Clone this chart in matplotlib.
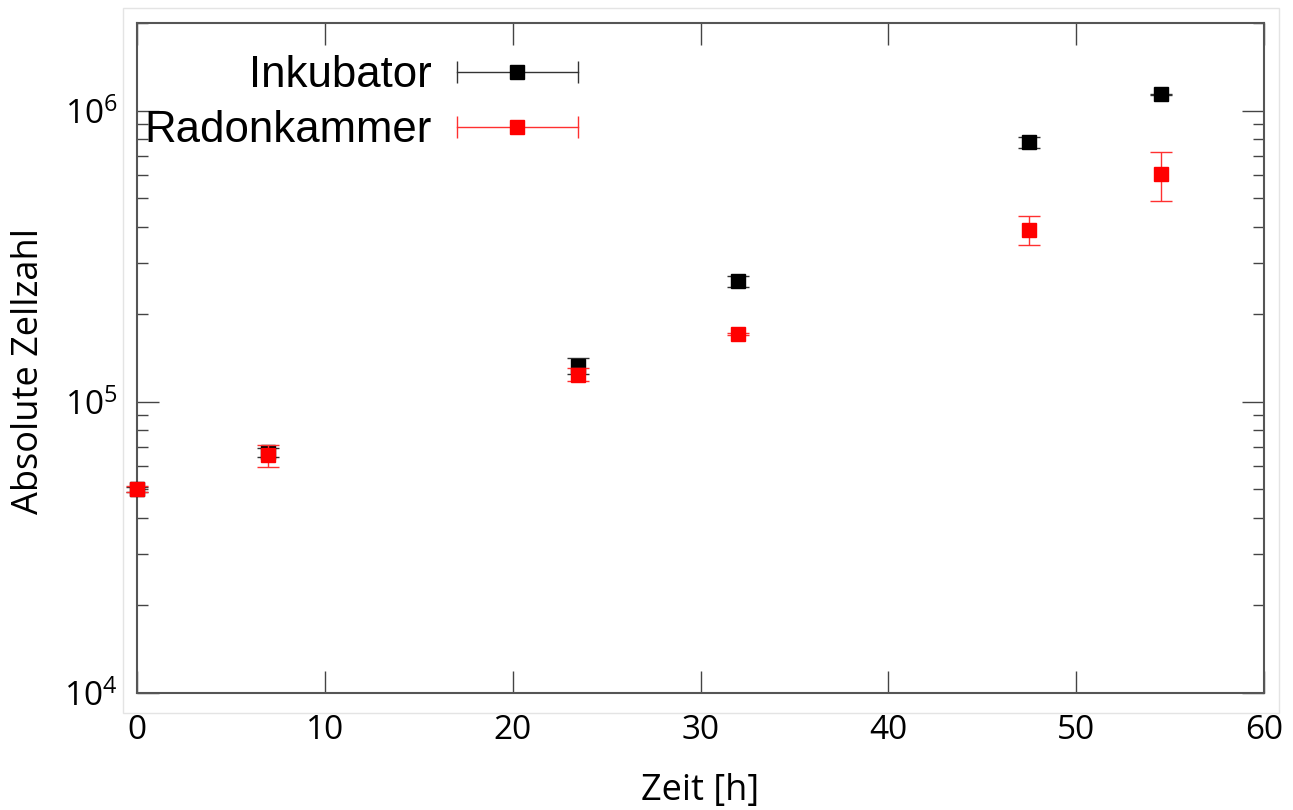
import numpy as np
import matplotlib
matplotlib.use("Agg")
import matplotlib.pyplot as plt
from matplotlib.legend_handler import HandlerBase
from matplotlib.lines import Line2D
from matplotlib.patches import Rectangle
from matplotlib.ticker import LogLocator, FixedLocator, NullFormatter

# ---- data ----
time_h = [0, 7, 23.5, 32, 47.5, 54.5]
inkubator = [5.0e4, 6.72e4, 1.33e5, 2.59e5, 7.8e5, 1.138e6]
inkubator_err = [1.0e3, 2.4e3, 8.5e3, 1.2e4, 3.5e4, 5.0e3]
radon = [5.02e4, 6.55e4, 1.24e5, 1.71e5, 3.9e5, 6.05e5]
radon_err = [1.0e3, 5.7e3, 6.5e3, 2.0e3, 4.5e4, 1.15e5]
labels = ["Inkubator", "Radonkammer"]
x_ticks = [0, 10, 20, 30, 40, 50, 60]

series_colors = ['black', '#ff0000']
err_colors = ['#333333', '#ff3030']

plt.rcParams['font.family'] = ['Open Sans', 'DejaVu Sans']

fig = plt.figure(figsize=(12.93, 8.10), dpi=100)
ax = fig.add_axes([137/1293, 1 - 693/810, (1264 - 137)/1293, (693 - 23)/810])

# faint outer frame
fig.patches.append(Rectangle((123/1293, 1 - 713/810), (1279 - 123)/1293, (713 - 8)/810,
                             transform=fig.transFigure, fill=False, edgecolor='#e4e4e4', lw=1.0))

ms = 10
cap = 8
handles = []
for vals, errs, c, ec, z in [(inkubator, inkubator_err, series_colors[0], err_colors[0], 3),
                             (radon, radon_err, series_colors[1], err_colors[1], 4)]:
    h = ax.errorbar(time_h, vals, yerr=errs, fmt='s', color=c, ms=ms,
                    ecolor=ec, elinewidth=1.0, capsize=cap, capthick=1.0,
                    clip_on=False, zorder=z)
    handles.append(h)


class HandlerXErr(HandlerBase):
    """gnuplot-like key sample: horizontal error bar with end caps and marker."""
    def __init__(self, color, ecolor, ms, capsize, **kw):
        super().__init__(**kw)
        self.color, self.ecolor, self.ms, self.capsize = color, ecolor, ms, capsize

    def create_artists(self, legend, orig_handle, xdescent, ydescent, width, height,
                       fontsize, trans):
        x0 = -xdescent
        x1 = -xdescent + width
        y = height / 2 - ydescent
        xc = (x0 + x1) / 2
        bar = Line2D([x0, x1], [y, y], color=self.ecolor, lw=1.0, transform=trans)
        caps = Line2D([x0, x1], [y, y], ls='none', marker='|', ms=2 * self.capsize,
                      mew=1.0, color=self.ecolor, transform=trans)
        mk = Line2D([xc], [y], ls='none', marker='s', ms=self.ms,
                    color=self.color, transform=trans)
        return [bar, caps, mk]


ax.set_yscale('log')
ax.set_xlim(0, 60)
ax.set_ylim(1e4, 2e6)
ax.xaxis.set_major_locator(FixedLocator(x_ticks))
ax.yaxis.set_major_locator(LogLocator(base=10, numticks=10))
ax.yaxis.set_minor_locator(LogLocator(base=10, subs=np.arange(2, 10), numticks=20))
ax.yaxis.set_minor_formatter(NullFormatter())

for s in ax.spines.values():
    s.set_color('#555555')
    s.set_linewidth(1.5)

ax.tick_params(axis='both', which='major', direction='in', length=16, width=1.0,
               color='#444444', labelsize=24, top=True, right=True)
ax.tick_params(axis='x', which='major', pad=15)
ax.tick_params(axis='y', which='major', pad=14)
ax.tick_params(axis='y', which='minor', direction='in', length=8, width=1.0,
               color='#444444', left=True, right=True)

ax.set_xlabel('Zeit [h]', fontsize=26, labelpad=19)
ax.set_ylabel('Absolute Zellzahl', fontsize=26)
ax.yaxis.set_label_coords(-0.080, 0.48)

leg = ax.legend(handles, labels, loc='upper right',
                bbox_to_anchor=(578/1293, 1 - 55/810), bbox_transform=fig.transFigure,
                frameon=False, markerfirst=False, borderpad=0, borderaxespad=0,
                handlelength=2.77, handletextpad=0.57, labelspacing=0.33,
                prop={'family': 'Liberation Sans', 'size': 31.5},
                handler_map={handles[0]: HandlerXErr(series_colors[0], err_colors[0], ms, cap),
                             handles[1]: HandlerXErr(series_colors[1], err_colors[1], ms, cap)})

fig.savefig('out.png', dpi=100)
